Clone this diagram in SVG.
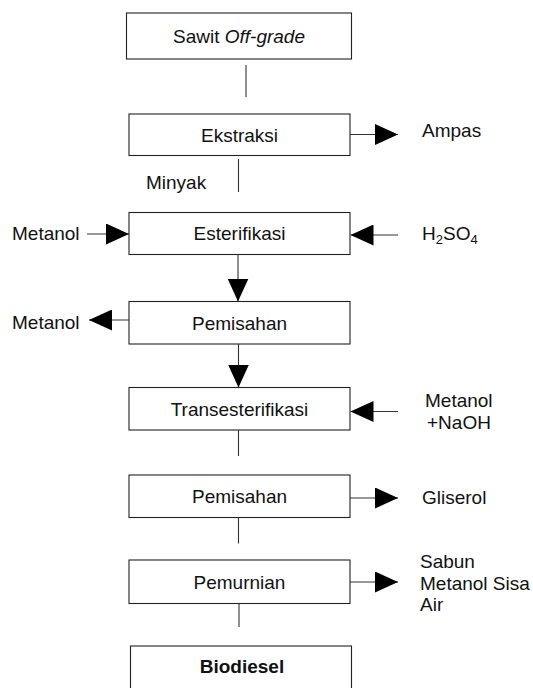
<svg xmlns="http://www.w3.org/2000/svg" width="533" height="688" viewBox="0 0 533 688">
<style>
  .box { fill: #fff; stroke: #222; stroke-width: 1.1; }
  .t { font-family: "Liberation Sans", Arial, sans-serif; font-size: 19px; fill: #111; }
  .c { text-anchor: middle; }
  .b { font-weight: bold; }
  .ln { fill: none; stroke: #333; stroke-width: 1.1; }
  .ar { fill: none; stroke: #333; stroke-width: 1.1; marker-end: url(#ah); }
  .sub { font-size: 13px; }
</style>
<defs>
  <marker id="ah" markerUnits="userSpaceOnUse" markerWidth="23" markerHeight="21" refX="23" refY="10.5" orient="auto" viewBox="0 0 23 21">
    <path d="M0,0 L23,10.5 L0,21 Z" fill="#000"/>
  </marker>
</defs>
<rect width="533" height="688" fill="#fff"/>

<g id="n-sawit">
  <rect class="box" x="126.5" y="13" width="225" height="46"/>
  <text class="t c" x="239" y="43">Sawit <tspan font-style="italic">Off-grade</tspan></text>
</g>
<g id="n-ekstraksi">
  <rect class="box" x="129" y="114" width="221" height="41.5"/>
  <text class="t c" x="239.5" y="141.5">Ekstraksi</text>
</g>
<g id="n-esterifikasi">
  <rect class="box" x="129" y="212.5" width="221" height="42"/>
  <text class="t c" x="239.5" y="240">Esterifikasi</text>
</g>
<g id="n-pemisahan1">
  <rect class="box" x="129" y="301.5" width="221" height="42.5"/>
  <text class="t c" x="239.5" y="329.5">Pemisahan</text>
</g>
<g id="n-transesterifikasi">
  <rect class="box" x="129" y="387.5" width="221" height="42.5"/>
  <text class="t c" x="239.5" y="415.5">Transesterifikasi</text>
</g>
<g id="n-pemisahan2">
  <rect class="box" x="129" y="475" width="221" height="42.5"/>
  <text class="t c" x="239.5" y="502.5">Pemisahan</text>
</g>
<g id="n-pemurnian">
  <rect class="box" x="129" y="560" width="221" height="43.5"/>
  <text class="t c" x="239.5" y="588.5">Pemurnian</text>
</g>
<g id="n-biodiesel">
  <rect class="box" x="130.5" y="646" width="221" height="60"/>
  <text class="t c b" x="242" y="673">Biodiesel</text>
</g>

<g id="labels">
  <text class="t" x="422" y="137">Ampas</text>
  <text class="t" x="146" y="188.5">Minyak</text>
  <text class="t" x="12" y="239.5">Metanol</text>
  <text class="t" x="422" y="240">H<tspan class="sub" dy="4">2</tspan><tspan dy="-4">SO</tspan><tspan class="sub" dy="4">4</tspan></text>
  <text class="t" x="12" y="328.5">Metanol</text>
  <text class="t" x="425" y="407">Metanol</text>
  <text class="t" x="427" y="429">+NaOH</text>
  <text class="t" x="422" y="504">Gliserol</text>
  <text class="t" x="420" y="567.5">Sabun</text>
  <text class="t" x="420" y="589.5">Metanol Sisa</text>
  <text class="t" x="420" y="611">Air</text>
</g>

<g id="connectors">
  <line class="ln" x1="246" y1="65" x2="246" y2="97"/>
  <line class="ar" x1="350" y1="134.5" x2="398" y2="134.5"/>
  <line class="ln" x1="238.5" y1="159" x2="238.5" y2="192"/>
  <line class="ar" x1="87" y1="234" x2="129" y2="234"/>
  <line class="ar" x1="398" y1="235" x2="350.5" y2="235"/>
  <line class="ar" x1="238" y1="254.5" x2="238" y2="301.5"/>
  <line class="ar" x1="129" y1="320" x2="89" y2="320"/>
  <line class="ar" x1="238.5" y1="344" x2="238.5" y2="387.5"/>
  <line class="ar" x1="398" y1="411.5" x2="350.5" y2="411.5"/>
  <line class="ln" x1="238.5" y1="430" x2="238.5" y2="456"/>
  <line class="ar" x1="350" y1="498" x2="398" y2="498"/>
  <line class="ln" x1="238.5" y1="517.5" x2="238.5" y2="543.5"/>
  <line class="ar" x1="350" y1="582" x2="398" y2="582"/>
  <line class="ln" x1="239" y1="603.5" x2="239" y2="627"/>
</g>
</svg>
